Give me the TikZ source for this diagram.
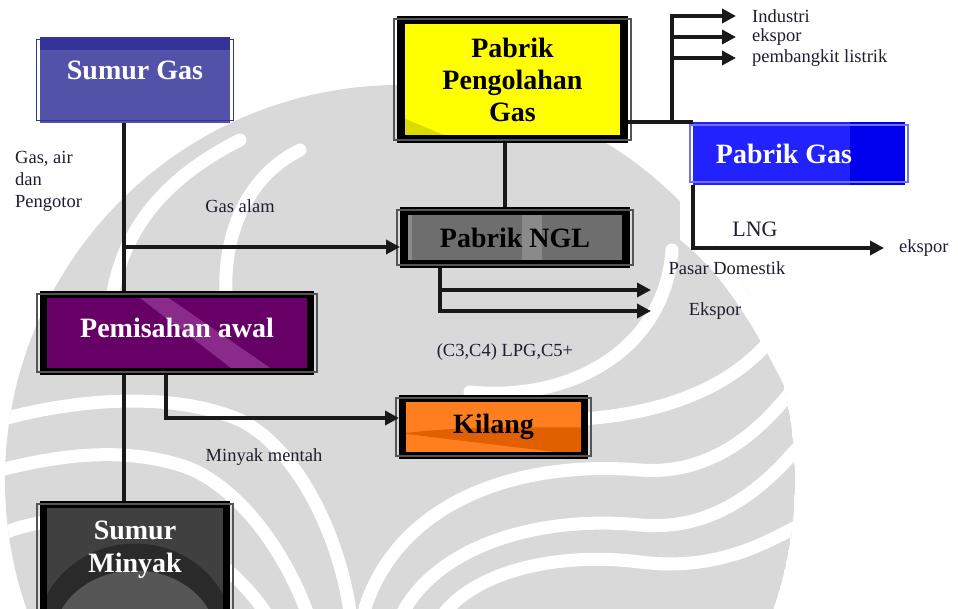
\documentclass[tikz,border=0pt]{standalone}
\usepackage{fontspec}
\setmainfont{Liberation Serif}
\usetikzlibrary{arrows.meta}
\definecolor{wm}{HTML}{D9D9D9}
\definecolor{sgfill}{HTML}{5252A8}
\definecolor{sgtop}{HTML}{333399}
\definecolor{yel}{HTML}{FFFF00}
\definecolor{yeld}{HTML}{DADA00}
\definecolor{nglfill}{HTML}{6E6E6E}
\definecolor{nglband}{HTML}{8A8A8A}
\definecolor{purp}{HTML}{660066}
\definecolor{purpl}{HTML}{8A2A8A}
\definecolor{orng}{HTML}{FF7F20}
\definecolor{orngd}{HTML}{E06000}
\definecolor{smdark}{HTML}{404040}
\definecolor{smdarker}{HTML}{2A2A2A}
\definecolor{smlight}{HTML}{565656}
\definecolor{pgblue}{HTML}{2222FF}
\definecolor{pgblue2}{HTML}{0000EE}
\definecolor{pgframe}{HTML}{7070FF}
\definecolor{frm}{HTML}{555555}
\definecolor{lblc}{HTML}{1E1E30}
\tikzset{
  boxk/.style={draw=black, line width=8pt, inner sep=0pt, align=center,
    font=\fontsize{28}{32}\selectfont\bfseries},
  boxplain/.style={draw=none, inner sep=0pt, align=center,
    font=\fontsize{28}{32}\selectfont\bfseries},
  frame/.style={draw=frm, line width=1.2pt},
  lbl/.style={inner sep=0pt, text=lblc, font=\fontsize{18.5}{22}\selectfont, align=left},
  conn/.style={line width=4.5pt, draw=black!90},
  arr/.style={line width=4.5pt, draw=black!90, -{Triangle[length=14pt,width=14pt]}},
  wband/.style={draw=white, line width=13pt, line cap=round},
}
\newcommand{\outerframe}[3]{\draw[#1] ([shift={(-#3,-#3)}]#2.north west) rectangle ([shift={(#3,#3)}]#2.south east);}
\begin{document}
\begin{tikzpicture}[x=1pt,y=-1pt]
\useasboundingbox (0,0) rectangle (958,608);
\clip (0,0) rectangle (958,608);
\fill[white] (0,0) rectangle (958,608);

% ---------- watermark (approximate) ----------
\begin{scope}
\clip (400,480) circle[radius=395];
\fill[wm] (400,480) circle[radius=395];
\fill[white] (680,150) -- (958,150) -- (958,420) -- (800,420) .. controls (760,330) and (720,270) .. (680,240) -- cycle;
\draw[wband] (470,392) .. controls (570,402) and (665,350) .. (672,250);
\draw[wband] (560,420) .. controls (650,418) and (740,392) .. (785,320);
\draw[wband] (365,608) .. controls (400,500) and (520,460) .. (640,470) .. controls (720,476) and (770,420) .. (800,380);
\draw[wband] (403,612) .. controls (440,545) and (540,515) .. (640,525) .. controls (720,532) and (770,480) .. (800,445);
\draw[wband] (445,612) .. controls (480,570) and (560,552) .. (640,562) .. controls (720,572) and (770,540) .. (800,525);
\draw[wband] (307,612) .. controls (280,540) and (230,480) .. (180,465) .. controls (120,447) and (60,455) .. (0,470);
\draw[wband] (350,612) .. controls (340,540) and (300,450) .. (240,420) .. controls (170,390) and (70,400) .. (0,420);
\draw[wband] (265,612) .. controls (230,560) and (170,525) .. (110,520) .. controls (60,516) and (20,525) .. (0,535);
\draw[wband] (230,330) .. controls (215,250) and (240,180) .. (300,150);
\draw[wband] (110,330) .. controls (110,240) and (160,180) .. (240,140);
\end{scope}

% ---------- boxes ----------
\node[boxplain, fill=sgfill, minimum width=190pt, minimum height=86pt,
  path picture={\fill[sgtop] (path picture bounding box.north west) rectangle ([yshift=-13pt]path picture bounding box.north east);}]
  (sg) at (135,80) {};
\node[inner sep=0pt, text=white, font=\fontsize{28}{32}\selectfont\bfseries] (sgt) at (135,70) {Sumur Gas};
\outerframe{draw=sgtop, line width=1.2pt}{sg}{3pt}

\node[boxk, fill=yel, minimum width=223pt, minimum height=119pt,
  path picture={\fill[yeld] ([yshift=22pt]path picture bounding box.south west) -- (path picture bounding box.south west) -- ([xshift=52pt]path picture bounding box.south west) -- cycle;}]
  (pg) at (512.5,79.5) {Pabrik\\Pengolahan\\Gas};
\outerframe{frame}{pg}{3pt}

\node[boxk, fill=nglfill, minimum width=222pt, minimum height=53pt,
  path picture={\fill[nglband] ([xshift=118pt]path picture bounding box.north west) rectangle ([xshift=138pt]path picture bounding box.south west);
  \fill[nglband] (path picture bounding box.north west) rectangle ([xshift=8pt]path picture bounding box.south west);}]
  (ngl) at (515,237.5) {Pabrik NGL};
\outerframe{frame}{ngl}{3pt}

\node[boxplain, fill=pgblue, text=white, minimum width=212pt, minimum height=63pt,
  path picture={\fill[pgblue2] ([xshift=-55pt]path picture bounding box.north east) rectangle (path picture bounding box.south east);}]
  (pgas) at (799,153.5) {\kern-30pt Pabrik Gas};
\outerframe{draw=pgframe, line width=1.5pt}{pgas}{3pt}

\node[boxk, line width=7pt, fill=purp, text=white, minimum width=267pt, minimum height=77pt,
  path picture={\fill[purpl] ([xshift=92pt]path picture bounding box.north west) -- ([xshift=120pt]path picture bounding box.north west) -- ([xshift=232pt]path picture bounding box.south west) -- ([xshift=192pt]path picture bounding box.south west) -- cycle;}]
  (pa) at (177,333) {\raisebox{10pt}{Pemisahan awal}};
\outerframe{frame}{pa}{3pt}

\node[boxk, line width=7pt, fill=orng, minimum width=182pt, minimum height=57pt,
  path picture={\fill[orngd] ([yshift=22pt]path picture bounding box.south west) .. controls +(60pt,8pt) and +(-40pt,0pt) .. ([yshift=28pt,xshift=182pt]path picture bounding box.south west) -- (path picture bounding box.south east) -- cycle;}]
  (kil) at (493.5,427) {\raisebox{-4pt}{Kilang}};
\outerframe{frame}{kil}{3pt}

\node[boxk, line width=7pt, fill=smdark, minimum width=183pt, minimum height=136pt,
  path picture={\fill[smdarker] ([xshift=91.5pt]path picture bounding box.south west) ellipse[x radius=100pt, y radius=97pt];
  \fill[smlight] ([xshift=91.5pt]path picture bounding box.south west) ellipse[x radius=82pt, y radius=70pt];}]
  (sm) at (135,572.5) {};
\node[inner sep=0pt, text=white, align=center, font=\fontsize{28}{33}\selectfont\bfseries] (smt) at (135,549.5) {Sumur\\Minyak};
\outerframe{frame}{sm}{3pt}

% ---------- connectors ----------
\coordinate (jA) at (124,247);
\coordinate (jK) at (166,418);
\coordinate (jN) at (505,175);
\coordinate (jG) at (672,122);
\coordinate (t1) at (736,16);
\coordinate (t2) at (736,37);
\coordinate (t3) at (736,58);
\coordinate (jL) at (693,248);
\coordinate (tL) at (884,248);
\coordinate (jD) at (440,290);
\coordinate (jE) at (440,311);
\coordinate (tD) at (651,290);
\coordinate (tE) at (651,311);

\draw[conn] (sg.south -| jA) -- (pa.north -| jA);
\draw[arr, line width=3.5pt] (jA) -- (ngl.west |- jA);
\draw[conn] (pa.south -| jA) -- (sm.north -| jA);
\draw[arr, line width=4pt] (pa.south -| jK) -- (jK) -- (kil.west |- jK);
\draw[conn, line width=4pt] (pg.south -| jN) -- (ngl.north -| jN);
\draw[conn] (pg.east |- jG) -- (pgas.west |- jG);
\draw[arr] (jG) -- (jG |- t1) -- (t1);
\draw[arr] (jG |- t2) -- (t2);
\draw[arr] (jG |- t3) -- (t3);
\draw[arr] (pgas.south -| jL) -- (jL) -- (tL);
\draw[arr, line width=4pt] (ngl.south -| jD) -- (jD) -- (tD);
\draw[arr, line width=4pt] (jD) -- (jE) -- (tE);

% ---------- labels ----------
\node[lbl, anchor=north west] (lGas) at (15,151) {Gas, air\\dan\\Pengotor};
\node[lbl] (lAlam) at (240,206) {Gas alam};
\node[lbl] (lMin) at (264,457) {Minyak mentah};
\node[lbl] (lC) at (505,352) {(C3,C4) LPG,C5+};
\node[lbl] (lPas) at (727,268) {Pasar Domestik};
\node[lbl] (lEks) at (715,311) {Ekspor};
\node[lbl, font=\fontsize{22}{26}\selectfont] (lLNG) at (755,229) {LNG};
\node[lbl, anchor=west] (lEk2) at (899,248) {ekspor};
\node[lbl, anchor=west] (lInd) at (752,16) {Industri};
\node[lbl, anchor=west] (lEk1) at (752,37) {ekspor};
\node[lbl, anchor=west] (lPem) at (752,58) {pembangkit listrik};
\end{tikzpicture}
\end{document}
